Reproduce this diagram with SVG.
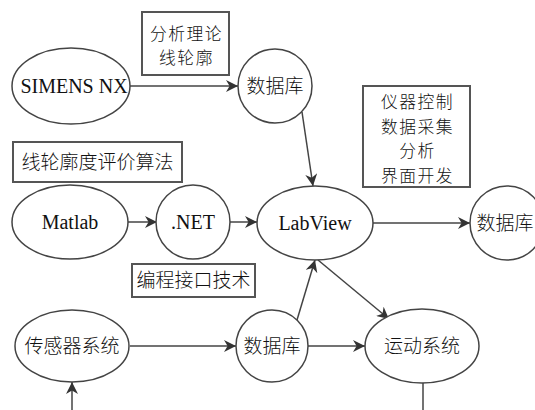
<svg xmlns="http://www.w3.org/2000/svg" width="535" height="410" viewBox="0 0 535 410">
<defs>
<marker id="arr" viewBox="0 0 10 10" refX="10" refY="5" markerWidth="12" markerHeight="12" markerUnits="userSpaceOnUse" orient="auto">
<path d="M0,0 L10,5 L0,10 L3,5 z" fill="#333"/>
</marker>
<style>
.n{fill:#fff;stroke:#444;stroke-width:1.5}
.b{fill:#fff;stroke:#555;stroke-width:2}
.c{stroke:#444;stroke-width:1.5;fill:none}
text{font-family:"Liberation Serif","Noto Sans CJK SC",serif;font-size:20px;fill:#111;text-anchor:middle}
.z{font-family:"Noto Sans CJK SC","Liberation Serif",sans-serif;font-size:19px;font-weight:300}
.m{font-size:16.8px;letter-spacing:1.5px}
</style>
</defs>
<rect width="535" height="410" fill="#fff"/>
<g id="connectors">
<line class="c" x1="130" y1="86" x2="238" y2="86" marker-end="url(#arr)"/>
<line class="c" x1="302" y1="112" x2="313" y2="186" marker-end="url(#arr)"/>
<line class="c" x1="128" y1="222" x2="157" y2="222" marker-end="url(#arr)"/>
<line class="c" x1="230" y1="222" x2="257" y2="222" marker-end="url(#arr)"/>
<line class="c" x1="373" y1="223" x2="470" y2="223" marker-end="url(#arr)"/>
<line class="c" x1="297" y1="320" x2="315" y2="260" marker-end="url(#arr)"/>
<line class="c" x1="318" y1="260" x2="389" y2="319" marker-end="url(#arr)"/>
<line class="c" x1="130" y1="346" x2="236" y2="346" marker-end="url(#arr)"/>
<line class="c" x1="308" y1="346" x2="365" y2="346" marker-end="url(#arr)"/>
<line class="c" x1="72" y1="410" x2="72" y2="382" marker-end="url(#arr)"/>
<line class="c" x1="423" y1="383" x2="423" y2="410"/>
</g>
<g id="box1"><rect class="b" x="142" y="12" width="87" height="63"/>
<text class="z m" x="186.5" y="40">分析理论</text><text class="z m" x="186.5" y="64">线轮廓</text></g>
<g id="box2"><rect class="b" x="363" y="86" width="107" height="101"/>
<text class="z m" x="417.5" y="108">仪器控制</text><text class="z m" x="417.5" y="132.5">数据采集</text><text class="z m" x="417.5" y="157">分析</text><text class="z m" x="417.5" y="181.5">界面开发</text></g>
<g id="box3"><rect class="b" x="13" y="142" width="169" height="40"/>
<text class="z" x="97.5" y="169">线轮廓度评价算法</text></g>
<g id="box4"><rect class="b" x="132" y="264" width="123" height="33"/>
<text class="z" x="193.5" y="287">编程接口技术</text></g>
<g id="simens"><ellipse class="n" cx="71" cy="86" rx="59" ry="38"/><text x="74" y="93">SIMENS NX</text></g>
<g id="db1"><circle class="n" cx="275" cy="86" r="37"/><text class="z" x="275" y="93">数据库</text></g>
<g id="matlab"><ellipse class="n" cx="70" cy="222" rx="58" ry="37"/><text x="70" y="229">Matlab</text></g>
<g id="net"><circle class="n" cx="193" cy="222" r="37"/><text x="193" y="229">.NET</text></g>
<g id="labview"><ellipse class="n" cx="315" cy="223" rx="58" ry="37"/><text x="315" y="230">LabView</text></g>
<g id="db2"><circle class="n" cx="507" cy="223" r="37"/><text class="z" x="505" y="230">数据库</text></g>
<g id="sensor"><ellipse class="n" cx="72" cy="346" rx="57" ry="36"/><text class="z" x="72" y="353">传感器系统</text></g>
<g id="db3"><circle class="n" cx="272" cy="346" r="36"/><text class="z" x="272" y="353">数据库</text></g>
<g id="motion"><ellipse class="n" cx="422" cy="346" rx="57" ry="37"/><text class="z" x="422" y="353">运动系统</text></g>
</svg>
